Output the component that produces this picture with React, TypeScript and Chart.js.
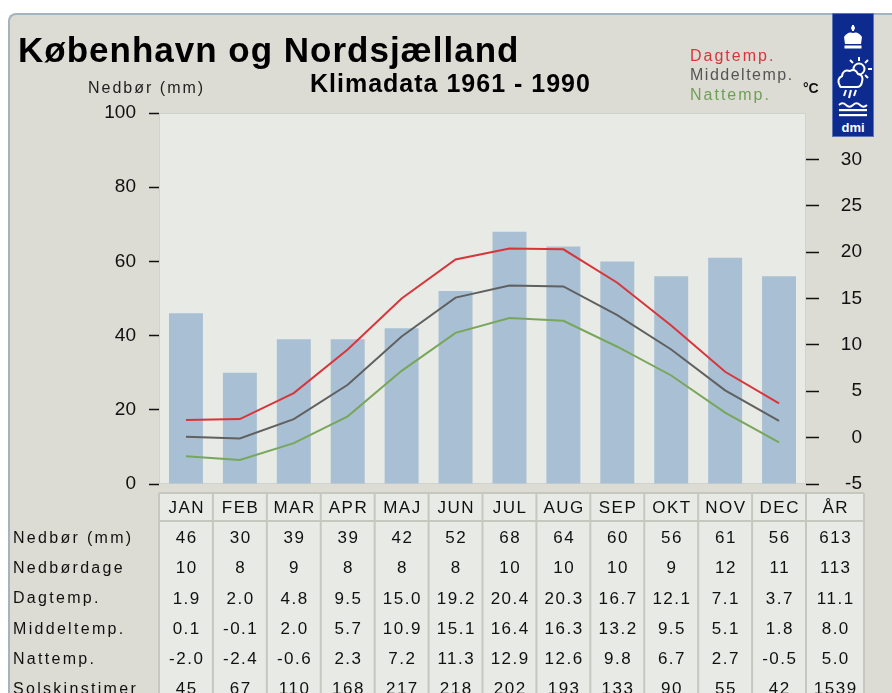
import React, { useEffect, useRef } from "react";
import { Chart, registerables } from "chart.js";

Chart.register(...registerables);

const months = ["JAN", "FEB", "MAR", "APR", "MAJ", "JUN", "JUL", "AUG", "SEP", "OKT", "NOV", "DEC"];
const yearLabel = "ÅR";
const rowLabels = ["Nedbør (mm)", "Nedbørdage", "Dagtemp.", "Middeltemp.", "Nattemp.", "Solskinstimer"];

const precipitation = [46, 30, 39, 39, 42, 52, 68, 64, 60, 56, 61, 56];
const precipitationYear = 613;
const precipitationDays = [10, 8, 9, 8, 8, 8, 10, 10, 10, 9, 12, 11];
const precipitationDaysYear = 113;
const dayTemp = [1.9, 2.0, 4.8, 9.5, 15.0, 19.2, 20.4, 20.3, 16.7, 12.1, 7.1, 3.7];
const dayTempYear = 11.1;
const meanTemp = [0.1, -0.1, 2.0, 5.7, 10.9, 15.1, 16.4, 16.3, 13.2, 9.5, 5.1, 1.8];
const meanTempYear = 8.0;
const nightTemp = [-2.0, -2.4, -0.6, 2.3, 7.2, 11.3, 12.9, 12.6, 9.8, 6.7, 2.7, -0.5];
const nightTempYear = 5.0;
const sunHours = [45, 67, 110, 168, 217, 218, 202, 193, 133, 90, 55, 42];
const sunHoursYear = 1539;

const precipAxisMin = 0;
const precipAxisMax = 100;
const precipAxisStep = 20;
const tempAxisMin = -5;
const tempAxisMax = 35;
const tempAxisStep = 5;
const tempAxisLastLabel = 30;

const FONT = '"Liberation Sans", Arial, sans-serif';

const fmt1 = (v: number) => v.toFixed(1);
const fmt0 = (v: number) => String(v);

const tableRows: { label: string; values: string[] }[] = [
  { label: rowLabels[0], values: [...precipitation.map(fmt0), fmt0(precipitationYear)] },
  { label: rowLabels[1], values: [...precipitationDays.map(fmt0), fmt0(precipitationDaysYear)] },
  { label: rowLabels[2], values: [...dayTemp.map(fmt1), fmt1(dayTempYear)] },
  { label: rowLabels[3], values: [...meanTemp.map(fmt1), fmt1(meanTempYear)] },
  { label: rowLabels[4], values: [...nightTemp.map(fmt1), fmt1(nightTempYear)] },
  { label: rowLabels[5], values: [...sunHours.map(fmt0), fmt0(sunHoursYear)] },
];

const plotBgPlugin = {
  id: "plotBg",
  beforeDraw(chart: any) {
    const { ctx, chartArea } = chart;
    ctx.save();
    ctx.fillStyle = "#e8eae5";
    ctx.fillRect(chartArea.left, chartArea.top, chartArea.right - chartArea.left, chartArea.bottom - chartArea.top);
    ctx.strokeStyle = "#d0d2cc";
    ctx.lineWidth = 1;
    ctx.strokeRect(chartArea.left + 0.5, chartArea.top + 0.5, chartArea.right - chartArea.left - 1, chartArea.bottom - chartArea.top - 1);
    ctx.restore();
  },
};

const tablePlugin = {
  id: "climateTable",
  afterDraw(chart: any) {
    const { ctx, chartArea, scales } = chart;
    const xs = scales.x;
    const w = (chartArea.right - chartArea.left) / months.length;
    const headTop = chartArea.bottom + 9;
    const headBottom = headTop + 28;
    const yrLeft = chartArea.right;
    const yrRight = chartArea.right + 58;
    const bottom = chart.height;
    const rowStep = 30.2;
    const firstRow = headBottom + 17.5;

    ctx.save();
    ctx.fillStyle = "#e8eae5";
    ctx.fillRect(chartArea.left, headTop, yrRight - chartArea.left, bottom - headTop);

    ctx.strokeStyle = "#c6c7bf";
    ctx.lineWidth = 2;
    const bounds: number[] = months.map((_, i) => xs.getPixelForValue(i) - w / 2);
    bounds.push(yrLeft, yrRight);
    ctx.beginPath();
    bounds.forEach((b) => {
      ctx.moveTo(b, headTop);
      ctx.lineTo(b, bottom);
    });
    ctx.moveTo(chartArea.left, headTop);
    ctx.lineTo(yrRight, headTop);
    ctx.moveTo(chartArea.left, headBottom);
    ctx.lineTo(yrRight, headBottom);
    ctx.stroke();

    const centers = months.map((_, i) => xs.getPixelForValue(i));
    centers.push((yrLeft + yrRight) / 2);
    const headers = [...months, yearLabel];

    ctx.fillStyle = "#111";
    ctx.textBaseline = "middle";
    ctx.textAlign = "center";
    ctx.font = `17px ${FONT}`;
    (ctx as any).letterSpacing = "1.5px";
    headers.forEach((h, i) => ctx.fillText(h, centers[i] + 0.75, (headTop + headBottom) / 2 + 1));

    tableRows.forEach((row, r) => {
      const y = firstRow + r * rowStep;
      ctx.textAlign = "left";
      ctx.font = `16px ${FONT}`;
      (ctx as any).letterSpacing = "2.3px";
      ctx.fillText(row.label, 13, y);
      ctx.textAlign = "center";
      ctx.font = `17px ${FONT}`;
      (ctx as any).letterSpacing = "1.5px";
      row.values.forEach((v, i) => ctx.fillText(v, centers[i] + 0.75, y));
    });
    ctx.restore();
  },
};

function DmiLogo() {
  return (
    <svg width="42" height="124" viewBox="0 0 42 124" style={{ position: "absolute", left: 832, top: 13 }}>
      <rect x="0.5" y="0.5" width="41" height="123" fill="#0d2b8e" stroke="#5d74b4" />
      {/* crown */}
      <circle cx="21" cy="15" r="2" fill="#fff" />
      <rect x="20" y="12" width="2" height="6" fill="#fff" />
      <path d="M12 24 Q16 18 21 20 Q26 18 30 24 L29 31 L13 31 Z" fill="#fff" />
      <rect x="12.5" y="32.5" width="17" height="3" fill="#fff" />
      {/* sun */}
      <circle cx="27" cy="56" r="5.5" fill="none" stroke="#fff" strokeWidth="2" />
      <g stroke="#fff" strokeWidth="2">
        <line x1="27" y1="44" x2="27" y2="48" />
        <line x1="36" y1="47" x2="33" y2="50" />
        <line x1="40" y1="56" x2="36" y2="56" />
        <line x1="36" y1="65" x2="33" y2="62" />
        <line x1="18" y1="47" x2="21" y2="50" />
      </g>
      {/* cloud */}
      <path d="M8 73 Q4 66 10 63 Q11 56 18 58 Q23 55 26 61 Q32 62 30 69 Q29 74 25 74 L10 74 Q8 74 8 73 Z" fill="#0d2b8e" stroke="#fff" strokeWidth="2" />
      <g stroke="#fff" strokeWidth="2">
        <line x1="14" y1="77" x2="12" y2="83" />
        <line x1="19" y1="77" x2="17" y2="85" />
        <line x1="24" y1="77" x2="22" y2="83" />
      </g>
      {/* waves */}
      <path d="M7 92 q3.5 -3.5 7 0 q3.5 3.5 7 0 q3.5 -3.5 7 0 q3.5 3.5 7 0" fill="none" stroke="#fff" strokeWidth="1.8" />
      <rect x="7" y="96" width="28" height="2.2" fill="#fff" />
      <rect x="7" y="101" width="28" height="2.2" fill="#fff" />
      <text x="21" y="119" textAnchor="middle" fill="#fff" fontFamily={FONT} fontWeight="bold" fontSize="13">dmi</text>
    </svg>
  );
}

export default function App() {
  const canvasRef = useRef<HTMLCanvasElement | null>(null);

  useEffect(() => {
    if (!canvasRef.current) return;
    const chart = new Chart(canvasRef.current, {
      type: "bar",
      data: {
        labels: months,
        datasets: [
          {
            type: "line",
            label: "Dagtemp.",
            data: dayTemp,
            yAxisID: "y2",
            borderColor: "#d8353b",
            borderWidth: 2,
            pointRadius: 0,
            tension: 0,
            order: 1,
          } as any,
          {
            type: "line",
            label: "Middeltemp.",
            data: meanTemp,
            yAxisID: "y2",
            borderColor: "#606060",
            borderWidth: 2,
            pointRadius: 0,
            tension: 0,
            order: 1,
          },
          {
            type: "line",
            label: "Nattemp.",
            data: nightTemp,
            yAxisID: "y2",
            borderColor: "#78a65a",
            borderWidth: 2,
            pointRadius: 0,
            tension: 0,
            order: 1,
          },
          {
            type: "bar",
            label: "Nedbør (mm)",
            data: precipitation,
            yAxisID: "y",
            backgroundColor: "#a9c0d4",
            barPercentage: 0.63,
            categoryPercentage: 1,
            order: 2,
          },
        ],
      },
      options: {
        animation: false,
        responsive: true,
        maintainAspectRatio: false,
        layout: { padding: { left: 8, top: 113, right: 30, bottom: 209 } },
        plugins: { legend: { display: false }, tooltip: { enabled: false } },
        scales: {
          x: { type: "category", display: false, offset: true },
          y: {
            position: "left",
            min: precipAxisMin,
            max: precipAxisMax,
            ticks: { stepSize: precipAxisStep, color: "#111", font: { family: FONT, size: 19 }, padding: 13 },
            grid: { drawOnChartArea: false, tickLength: 10, tickColor: "#111", tickWidth: 1.5 },
            border: { display: false },
            afterFit: (s: any) => {
              s.width = 151;
            },
          },
          y2: {
            position: "right",
            min: tempAxisMin,
            max: tempAxisMax,
            ticks: { stepSize: tempAxisStep, color: "#111", font: { family: FONT, size: 19 }, padding: 12, crossAlign: "far" },
            grid: { drawOnChartArea: false, tickLength: 13, tickColor: "#111", tickWidth: 1.5 },
            border: { display: false },
            afterBuildTicks: (s: any) => {
              s.ticks = s.ticks.filter((t: any) => t.value <= tempAxisLastLabel);
            },
            afterFit: (s: any) => {
              s.width = 56;
            },
          },
        },
      },
      plugins: [plotBgPlugin, tablePlugin],
    });
    return () => chart.destroy();
  }, []);

  const txt = (extra: React.CSSProperties): React.CSSProperties => ({
    position: "absolute",
    fontFamily: FONT,
    lineHeight: 1,
    whiteSpace: "nowrap",
    margin: 0,
    ...extra,
  });

  return (
    <div style={{ position: "absolute", left: 0, top: 0, width: 892, height: 693, overflow: "hidden", background: "#fff" }}>
      <div
        style={{
          position: "absolute",
          left: 8,
          top: 13,
          width: 920,
          height: 720,
          background: "#dcdcd4",
          borderLeft: "2px solid #a3b3c0",
          borderTop: "2px solid #a3b3c0",
          borderTopLeftRadius: 8,
          boxSizing: "border-box",
        }}
      />
      <div style={{ position: "absolute", left: 0, top: 0, width: 892, height: 693 }}>
        <canvas ref={canvasRef} />
      </div>
      <div style={txt({ left: 18, top: 32, fontSize: 35, fontWeight: "bold", letterSpacing: 1, color: "#000" })}>
        København og Nordsjælland
      </div>
      <div style={txt({ left: 310, top: 71, fontSize: 25, fontWeight: "bold", letterSpacing: 1, color: "#000" })}>
        Klimadata 1961 - 1990
      </div>
      <div style={txt({ left: 88, top: 80, fontSize: 16, letterSpacing: 2, color: "#222" })}>Nedbør (mm)</div>
      <div style={txt({ left: 690, top: 48, fontSize: 16, letterSpacing: 2, color: "#d8353b" })}>Dagtemp.</div>
      <div style={txt({ left: 690, top: 67, fontSize: 16, letterSpacing: 1.5, color: "#555" })}>Middeltemp.</div>
      <div style={txt({ left: 690, top: 87, fontSize: 16, letterSpacing: 2, color: "#6f9f55" })}>Nattemp.</div>
      <div style={txt({ left: 803, top: 81, fontSize: 14, fontWeight: "bold", color: "#111" })}>°C</div>
      <DmiLogo />
    </div>
  );
}
